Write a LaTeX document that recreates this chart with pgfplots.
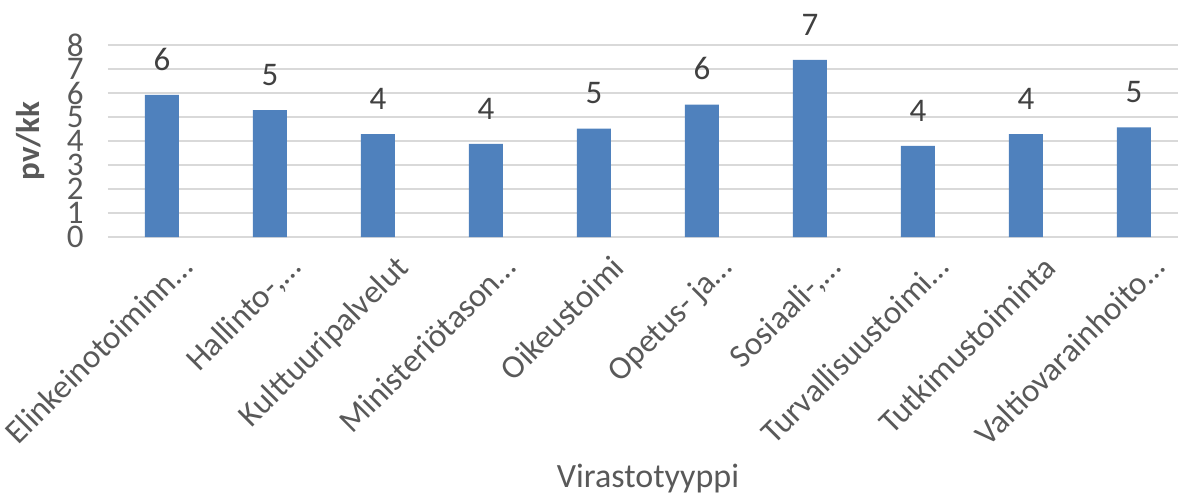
\documentclass[border=0pt]{standalone}
\usepackage{pgfplots}
\pgfplotsset{compat=1.18}
\usepackage{fontspec}
\setmainfont{Carlito}
\definecolor{barblue}{HTML}{4F81BD}
\definecolor{gridgray}{HTML}{D9D9D9}
\definecolor{txtgray}{HTML}{595959}
\definecolor{lblgray}{HTML}{404040}
\begin{document}
\begin{tikzpicture}
\begin{axis}[
    scale only axis,
    at={(0,0)}, anchor=south west,
    width=540pt, height=96pt,
    ybar, bar width=17pt,
    xmin=-0.5, xmax=9.5,
    ymin=0, ymax=8,
    ytick={0,1,...,8},
    xtick=data,
    xticklabels={{Elinkeinotoiminn…},{Hallinto-,…},{Kulttuuripalvelut},{Ministeriötason…},{Oikeustoimi},{Opetus- ja…},{Sosiaali-,…},{Turvallisuustoimi…},{Tutkimustoiminta},{Valtiovarainhoito…}},
    axis line style={draw=none},
    major tick length=0pt,
    ymajorgrids,
    grid style={gridgray, line width=1.3pt},
    /pgf/number format/assume math mode=true,
    yticklabel style={font=\fontsize{16.5}{16}\selectfont, text=txtgray, inner sep=0pt, xshift=-12pt},
    xticklabel style={font=\fontsize{16.5}{17}\selectfont, text=txtgray, inner sep=0pt, anchor=north east, xshift=8pt, yshift=-8pt, rotate=45},
    ylabel={pv/kk},
    ylabel style={at={(axis description cs:-0.072,0.5)}, anchor=center, rotate=0, font=\fontsize{16.5}{18}\selectfont\bfseries, text=txtgray},
    xlabel={Virastotyyppi},
    xlabel style={at={(axis description cs:0.5,0)}, anchor=center, yshift=-121pt, font=\fontsize{17}{18}\selectfont, text=txtgray},
    nodes near coords,
    nodes near coords style={/pgf/number format/fixed, /pgf/number format/precision=0},
    every node near coord/.append style={font=\fontsize{16.5}{17}\selectfont, text=lblgray, inner sep=0pt, anchor=south, yshift=12pt},
]
\addplot[fill=barblue, draw=none] coordinates {
    (0,5.92) (1,5.29) (2,4.29) (3,3.88) (4,4.52)
    (5,5.52) (6,7.38) (7,3.80) (8,4.29) (9,4.57)
};
\end{axis}
\pgfresetboundingbox
\useasboundingbox (-54pt,-131pt) rectangle (535pt,118.5pt);
\end{tikzpicture}
\end{document}
